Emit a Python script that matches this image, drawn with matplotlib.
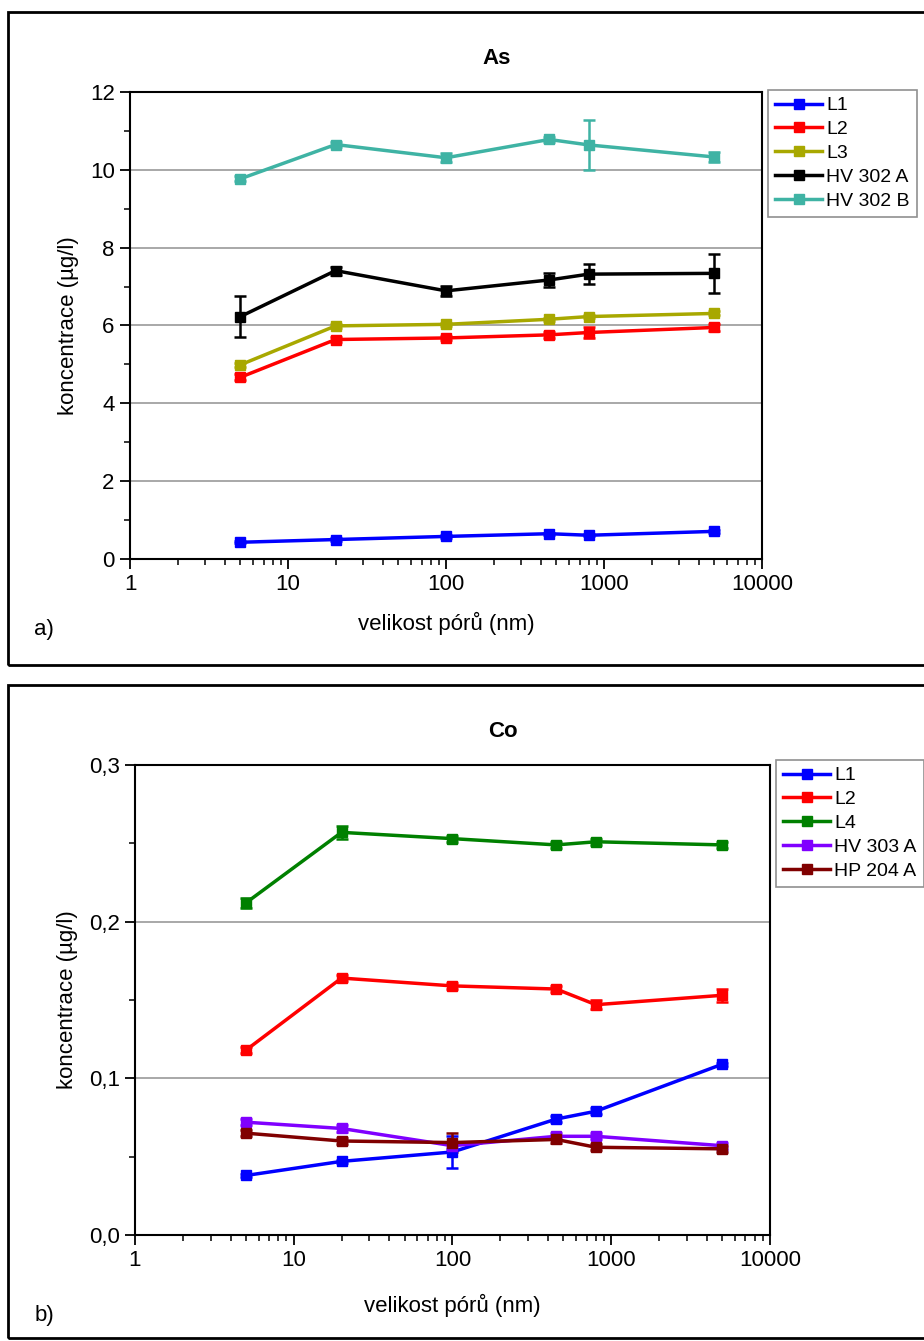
import matplotlib
matplotlib.use("Agg")
import matplotlib.pyplot as plt
from matplotlib.patches import Rectangle
from matplotlib.ticker import MultipleLocator, LogLocator, FuncFormatter, NullFormatter

plt.rcParams['font.family'] = ['Liberation Sans', 'DejaVu Sans']

# pore size (nm)
pores = [5, 20, 100, 450, 800, 5000]

# As (ug/l)
as_names = ["L1", "L2", "L3", "HV 302 A", "HV 302 B"]
as_L1 = [0.43, 0.50, 0.58, 0.65, 0.61, 0.71]
as_L1_err = [0.03, 0.03, 0.03, 0.03, 0.03, 0.03]
as_L2 = [4.67, 5.64, 5.68, 5.76, 5.82, 5.95]
as_L2_err = [0.08, 0.06, 0.06, 0.08, 0.15, 0.08]
as_L3 = [4.99, 5.99, 6.03, 6.16, 6.23, 6.31]
as_L3_err = [0.05, 0.05, 0.04, 0.04, 0.04, 0.05]
as_HVA = [6.23, 7.41, 6.89, 7.17, 7.32, 7.34]
as_HVA_err = [0.52, 0.10, 0.13, 0.17, 0.25, 0.50]
as_HVB = [9.77, 10.65, 10.31, 10.78, 10.64, 10.33]
as_HVB_err = [0.06, 0.07, 0.12, 0.07, 0.65, 0.12]

# Co (ug/l)
co_names = ["L1", "L2", "L4", "HV 303 A", "HP 204 A"]
co_L1 = [0.038, 0.047, 0.053, 0.074, 0.079, 0.109]
co_L1_err = [0.001, 0.001, 0.010, 0.002, 0.002, 0.001]
co_L2 = [0.118, 0.164, 0.159, 0.157, 0.147, 0.153]
co_L2_err = [0.002, 0.002, 0.002, 0.002, 0.003, 0.004]
co_L4 = [0.212, 0.257, 0.253, 0.249, 0.251, 0.249]
co_L4_err = [0.003, 0.004, 0.002, 0.002, 0.002, 0.002]
co_HVA = [0.072, 0.068, 0.057, 0.063, 0.063, 0.057]
co_HVA_err = [0.002, 0.002, 0.002, 0.002, 0.002, 0.002]
co_HPA = [0.065, 0.060, 0.059, 0.061, 0.056, 0.055]
co_HPA_err = [0.002, 0.002, 0.006, 0.002, 0.002, 0.002]

as_colors = ["#0000ff", "#ff0000", "#a8a800", "#000000", "#3fb3a4"]
co_colors = ["#0000ff", "#ff0000", "#008000", "#8000ff", "#800000"]

W, H = 924, 1341
fig = plt.figure(figsize=(W / 100, H / 100), dpi=100)


def rect(l, t, r, b):
    return [l / W, 1 - b / H, (r - l) / W, (b - t) / H]


def fmt(v, nd):
    s = ("%." + str(nd) + "f") % v
    return s.replace(".", ",")


def draw(ax, series, errs, names, colors, title, ymax, major, minor, nd, leg_xy, xpad):
    for y, e, n, c in zip(series, errs, names, colors):
        ax.errorbar(pores, y, yerr=e, color=c, marker="s", markersize=7.5, lw=2.5,
                    capsize=4, elinewidth=1.8, capthick=1.8, label=n)
    ax.set_xscale("log")
    ax.set_xlim(1, 10000)
    ax.set_ylim(0, ymax)
    ax.xaxis.set_major_locator(LogLocator(base=10, numticks=10))
    ax.xaxis.set_minor_locator(LogLocator(base=10, subs=range(2, 10), numticks=10))
    ax.xaxis.set_major_formatter(FuncFormatter(lambda v, p: "%d" % round(v)))
    ax.xaxis.set_minor_formatter(NullFormatter())
    ax.yaxis.set_major_locator(MultipleLocator(major))
    ax.yaxis.set_minor_locator(MultipleLocator(minor))
    ax.yaxis.set_major_formatter(FuncFormatter(lambda v, p: fmt(v, nd)))
    ax.grid(axis="y", which="major", color="#9a9a9a", lw=1.2)
    ax.set_axisbelow(True)
    for s in ax.spines.values():
        s.set_linewidth(1.5)
    ax.tick_params(which="major", direction="out", length=7, width=1.3, labelsize=16, pad=4)
    ax.tick_params(which="minor", direction="out", length=4, width=1.1)
    ax.set_xlabel("velikost pórů (nm)", fontsize=16, labelpad=xpad)
    ax.set_ylabel("koncentrace (µg/l)", fontsize=16, labelpad=8)
    ax.set_title(title, fontsize=16, fontweight="bold", pad=20, x=0.58)
    handles, labels = ax.get_legend_handles_labels()
    handles = [h[0] for h in handles]
    leg = ax.legend(handles, labels, loc="upper left",
                    bbox_to_anchor=(leg_xy[0] / W, 1 - leg_xy[1] / H),
                    bbox_transform=fig.transFigure, borderaxespad=0, fontsize=14,
                    frameon=True, fancybox=False, edgecolor="#909090", framealpha=1,
                    handlelength=2.45, handletextpad=0.2, labelspacing=0.32, borderpad=0.35)
    leg.get_frame().set_linewidth(1.2)


ax1 = fig.add_axes(rect(130, 92, 762, 559))
draw(ax1, [as_L1, as_L2, as_L3, as_HVA, as_HVB],
     [as_L1_err, as_L2_err, as_L3_err, as_HVA_err, as_HVB_err],
     as_names, as_colors, "As", 12, 2, 1, 0, (768, 90), 12)

ax2 = fig.add_axes(rect(135, 765, 770, 1235))
draw(ax2, [co_L1, co_L2, co_L4, co_HVA, co_HPA],
     [co_L1_err, co_L2_err, co_L4_err, co_HVA_err, co_HPA_err],
     co_names, co_colors, "Co", 0.3, 0.1, 0.05, 1, (776, 760), 16)

# panel frames
for top, bot in [(12, 665), (685, 1338)]:
    fig.add_artist(Rectangle((8 / W, 1 - bot / H), 1.0, (bot - top) / H,
                             transform=fig.transFigure, fill=False, lw=2, ec="black"))

fig.text(44 / W, 1 - 629 / H, "a)", fontsize=16, ha="center", va="center")
fig.text(44 / W, 1 - 1315 / H, "b)", fontsize=16, ha="center", va="center")

fig.savefig("out.png", dpi=100)
